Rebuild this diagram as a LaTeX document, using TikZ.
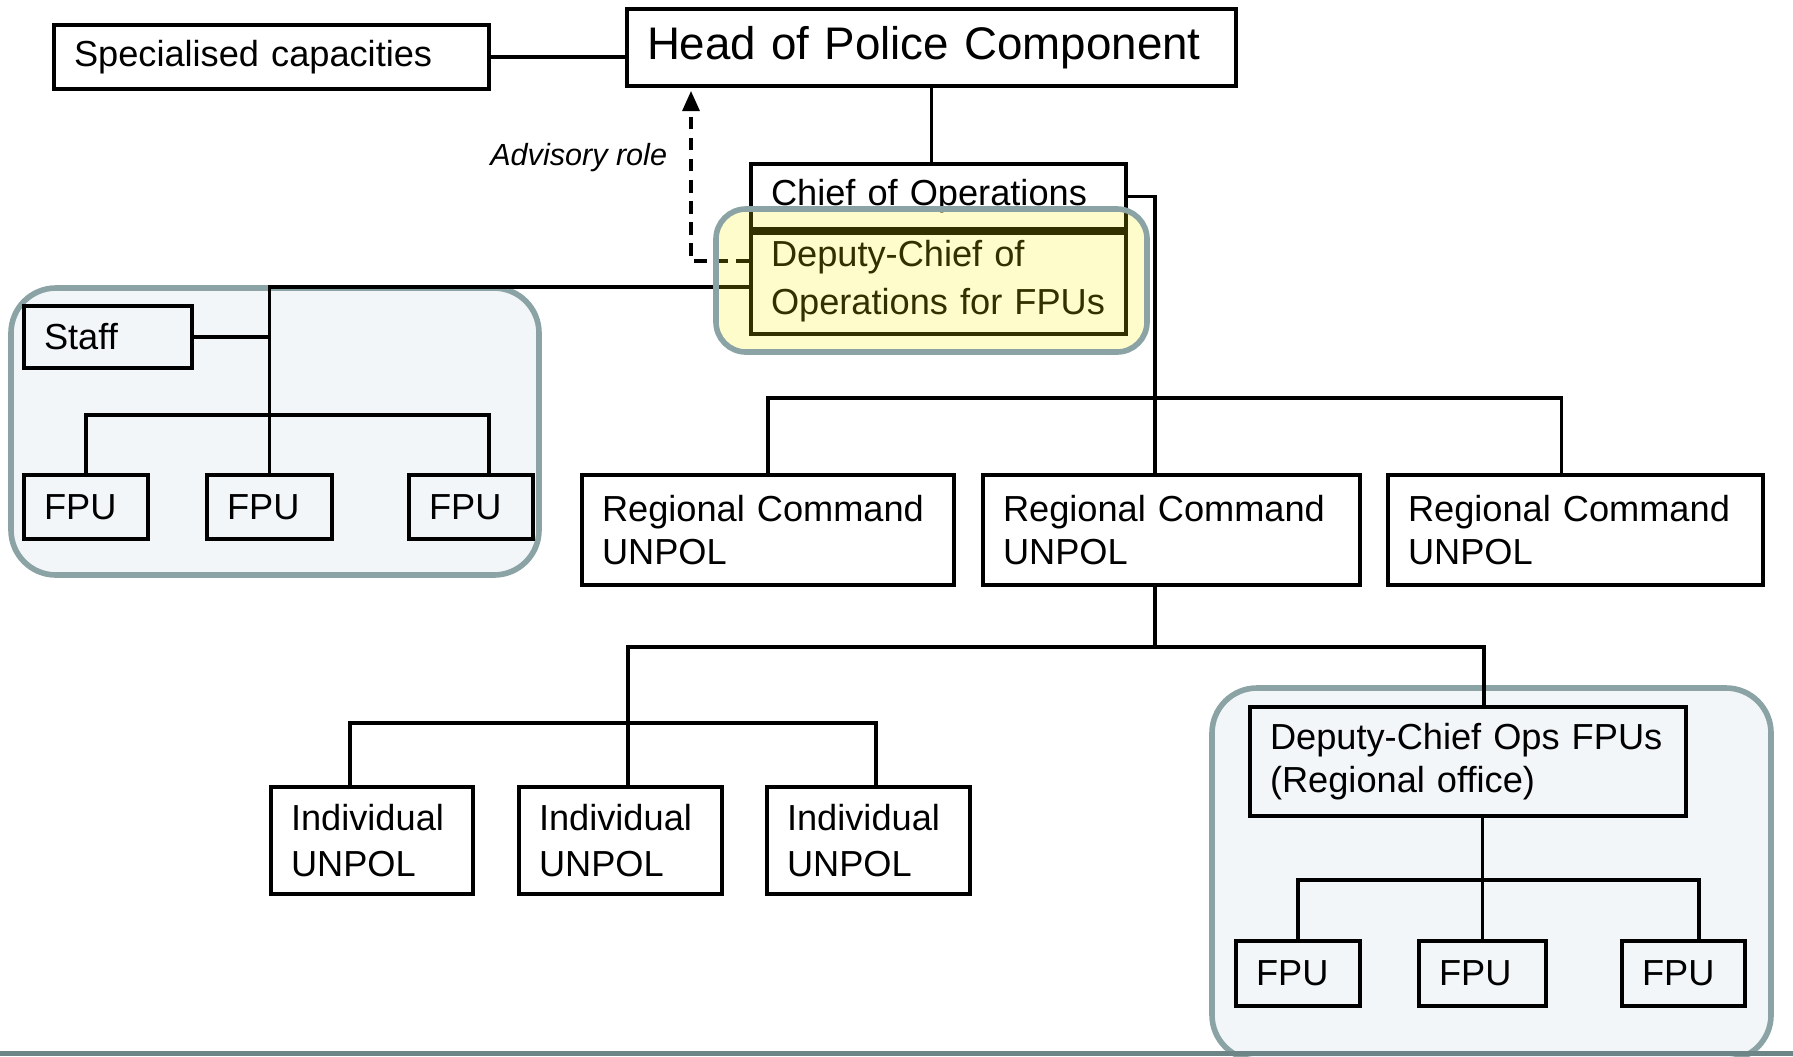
\documentclass[tikz,border=0pt]{standalone}
\usepackage{fontspec}
\setmainfont{Liberation Sans}
\usetikzlibrary{arrows.meta}
\definecolor{grpline}{RGB}{140,163,165}
\definecolor{grpfill}{RGB}{242,246,249}
\definecolor{rule}{RGB}{110,133,135}
\newcommand\bodyfont{\fontsize{10.3}{12.4}\selectfont}
\begin{document}
\begin{tikzpicture}[line width=1.1pt,
  unit/.style 2 args={draw, align=left, inner xsep=.2cm, inner ysep=0pt,
    text width=#1, minimum height=#2, font=\bodyfont},
  group/.style={draw=grpline, line width=1.6pt, rounded corners=.45cm, fill=grpfill},
  adv/.style={line width=.9pt, dash pattern=on 3.6pt off 2.4pt, -{Triangle[length=.2cm,width=.17cm]}}]
 \useasboundingbox (0,0) rectangle (17.93,-10.56);
 \draw[group] (0.11,-2.88) rectangle (5.39,-5.75);
 \draw[group] (12.12,-6.88) rectangle (17.71,-10.60);
 \node[unit={5.69cm}{.77cm}, font=\fontsize{13}{15}\selectfont] (head) at (9.315,-0.475) {Head of Police Component};
 \node[unit={3.95cm}{.64cm}] (spec) at (2.715,-0.57) {Specialised capacities};
 \node[unit={3.35cm}{.65cm}] (chief) at (9.385,-1.965) {Chief of Operations};
 \node[unit={3.35cm}{1.05cm}, font=\fontsize{10.3}{13.7}\selectfont] (dep) at (9.385,-2.815) {Deputy-Chief of\\Operations for FPUs};
 \draw[line width=2.2pt] (chief.south west) -- (chief.south east);
 \node[anchor=east, inner sep=0pt, font=\fontsize{8.7}{10}\selectfont\itshape] (advtxt) at (6.69,-1.58) {Advisory role};
 \coordinate (advtip) at (6.91,-0.91);
 \node[unit={1.28cm}{.62cm}] (staff) at (1.08,-3.37) {Staff};
 \node[unit={.84cm}{.64cm}] (fpuA) at (0.86,-5.07) {FPU};
 \node[unit={.85cm}{.64cm}] (fpuB) at (2.695,-5.07) {FPU};
 \node[unit={.84cm}{.64cm}] (fpuC) at (4.71,-5.07) {FPU};
 \node[unit={3.32cm}{1.10cm}] (rcA) at (7.68,-5.30) {Regional Command\\UNPOL};
 \node[unit={3.37cm}{1.10cm}] (rcB) at (11.715,-5.30) {Regional Command\\UNPOL};
 \node[unit={3.35cm}{1.10cm}] (rcC) at (15.755,-5.30) {Regional Command\\UNPOL};
 \node[unit={1.62cm}{1.07cm}, font=\fontsize{10.3}{13.2}\selectfont] (indA) at (3.72,-8.405) {Individual\\UNPOL};
 \node[unit={1.63cm}{1.07cm}, font=\fontsize{10.3}{13.2}\selectfont] (indB) at (6.205,-8.405) {Individual\\UNPOL};
 \node[unit={1.63cm}{1.07cm}, font=\fontsize{10.3}{13.2}\selectfont] (indC) at (8.685,-8.405) {Individual\\UNPOL};
 \node[unit={3.96cm}{1.09cm}] (dco) at (14.68,-7.615) {Deputy-Chief Ops FPUs\\(Regional office)};
 \node[unit={.84cm}{.65cm}] (fpuD) at (12.98,-9.735) {FPU};
 \node[unit={.87cm}{.65cm}] (fpuE) at (14.825,-9.735) {FPU};
 \node[unit={.83cm}{.65cm}] (fpuF) at (16.835,-9.735) {FPU};
 \coordinate (jA) at (11.55,-3.98);
 \coordinate (jB) at (11.55,-6.47);
 \coordinate (jC) at (6.28,-7.23);
 \coordinate (jD) at (14.84,-8.80);
 \coordinate (jE) at (2.70,-4.15);
 \draw (spec.east) -- (spec.east -| head.west);
 \draw (head.south) -- (head.south |- chief.north);
 \draw (chief.east) -| (jA) -- (jA |- rcB.north);
 \draw (rcA.north) |- (jA) -| ([xshift=-.14cm]rcC.north);
 \draw (jB |- rcB.south) -- (jB);
 \draw ([xshift=.075cm]indB.north) |- (jB) -| ([xshift=.16cm]dco.north);
 \draw ([xshift=-.22cm]indA.north) |- (jC) -| ([xshift=.075cm]indC.north);
 \draw (fpuE.north |- dco.south) -- (fpuE.north);
 \draw (fpuD.north) |- (jD) -| ([xshift=.155cm]fpuF.north);
 \draw ([yshift=-.055cm]dep.west) -| (fpuB.north);
 \draw (staff.east) -- (staff.east -| fpuB.north);
 \draw (fpuA.north) |- (jE) -| ([xshift=.18cm]fpuC.north);
 \draw[adv] ([yshift=.205cm]dep.west) -| (advtip);
 \draw[draw=grpline, line width=1.6pt, rounded corners=.3cm, fill=yellow, fill opacity=.2] (7.16,-2.09) rectangle (11.47,-3.52);
 \draw[rule, line width=1.3pt] (0,-10.535) -- (17.93,-10.535);
\end{tikzpicture}
\end{document}
